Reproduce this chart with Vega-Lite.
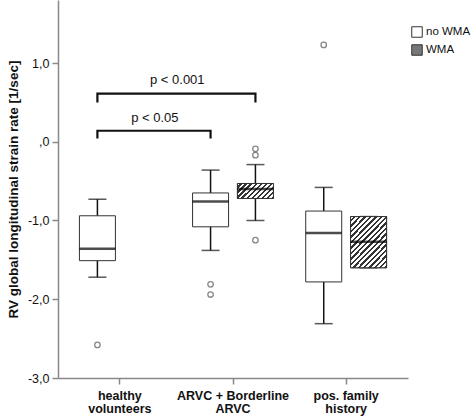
{
  "$schema": "https://vega.github.io/schema/vega-lite/v6.json",
  "width": 350,
  "height": 378,
  "autosize": {"type": "none"},
  "padding": {"left": 58, "top": 0, "right": 64, "bottom": 38},
  "background": "white",
  "config": {
    "view": {"stroke": null},
    "font": "Liberation Sans",
    "axis": {"grid": false, "domainColor": "#888888", "domainWidth": 1.5, "tickColor": "#888888", "tickWidth": 1.5, "tickSize": 6, "labelColor": "#111111", "titleColor": "#111111"}
  },
  "datasets": {
    "boxes": [
      {"group": "healthy volunteers", "wma": "no WMA", "lo": -1.72, "q1": -1.51, "med": -1.36, "q3": -0.94, "hi": -0.73},
      {"group": "ARVC + Borderline ARVC", "wma": "no WMA", "lo": -1.38, "q1": -1.08, "med": -0.76, "q3": -0.65, "hi": -0.36},
      {"group": "ARVC + Borderline ARVC", "wma": "WMA", "lo": -1.0, "q1": -0.72, "med": -0.6, "q3": -0.53, "hi": -0.29},
      {"group": "pos. family history", "wma": "no WMA", "lo": -2.31, "q1": -1.78, "med": -1.16, "q3": -0.88, "hi": -0.58},
      {"group": "pos. family history", "wma": "WMA", "lo": -1.6, "q1": -1.6, "med": -1.27, "q3": -0.95, "hi": -0.95}
    ],
    "outliers": [
      {"group": "healthy volunteers", "wma": "no WMA", "v": -2.58},
      {"group": "ARVC + Borderline ARVC", "wma": "no WMA", "v": -1.81},
      {"group": "ARVC + Borderline ARVC", "wma": "no WMA", "v": -1.94},
      {"group": "ARVC + Borderline ARVC", "wma": "WMA", "v": -1.25},
      {"group": "ARVC + Borderline ARVC", "wma": "WMA", "v": -0.17},
      {"group": "ARVC + Borderline ARVC", "wma": "WMA", "v": -0.09},
      {"group": "pos. family history", "wma": "no WMA", "v": 1.23}
    ],
    "brackets": [
      {"bracket": "a", "group": "healthy volunteers", "wma": "no WMA", "v": 0.5, "ord": 1},
      {"bracket": "a", "group": "healthy volunteers", "wma": "no WMA", "v": 0.61, "ord": 2},
      {"bracket": "a", "group": "ARVC + Borderline ARVC", "wma": "WMA", "v": 0.61, "ord": 3},
      {"bracket": "a", "group": "ARVC + Borderline ARVC", "wma": "WMA", "v": 0.5, "ord": 4},
      {"bracket": "b", "group": "healthy volunteers", "wma": "no WMA", "v": 0.04, "ord": 1},
      {"bracket": "b", "group": "healthy volunteers", "wma": "no WMA", "v": 0.14, "ord": 2},
      {"bracket": "b", "group": "ARVC + Borderline ARVC", "wma": "no WMA", "v": 0.14, "ord": 3},
      {"bracket": "b", "group": "ARVC + Borderline ARVC", "wma": "no WMA", "v": 0.04, "ord": 4}
    ]
  },
  "encoding": {
    "x": {
      "field": "group", "type": "nominal", "sort": null,
      "scale": {"domain": ["healthy volunteers", "ARVC + Borderline ARVC", "pos. family history"], "paddingInner": 0.207, "paddingOuter": 0.15},
      "axis": {"title": null, "labelAngle": 0, "labelFontSize": 12.5, "labelFontWeight": "bold", "labelPadding": 5, "labelLineHeight": 13,
        "labelExpr": "datum.value == 'healthy volunteers' ? ['healthy', 'volunteers'] : datum.value == 'ARVC + Borderline ARVC' ? ['ARVC + Borderline', 'ARVC'] : ['pos. family', 'history']"}
    }
  },
  "layer": [
    {
      "data": {"name": "boxes"},
      "mark": {"type": "rule", "color": "#111111", "strokeWidth": 1.5},
      "encoding": {
        "xOffset": {"field": "wma", "type": "nominal", "scale": {"domain": ["no WMA", "WMA"], "paddingInner": 0, "paddingOuter": 0}},
        "y": {"field": "lo", "type": "quantitative", "scale": {"domain": [-3, 1.8], "nice": false, "zero": false},
          "axis": {"values": [-3, -2, -1, 0, 1], "title": "RV global longitudinal strain rate [1/sec]", "titleFontSize": 13.5, "titleFontWeight": "bold", "titlePadding": 7, "labelFontSize": 12.5, "labelPadding": 3,
            "labelExpr": "datum.value == 0 ? ',0' : (datum.value < 0 ? '-' : '') + abs(datum.value) + ',0'"}},
        "y2": {"field": "hi"}
      }
    },
    {
      "data": {"name": "boxes"},
      "mark": {"type": "tick", "color": "#111111", "size": 18, "thickness": 1.5, "orient": "horizontal"},
      "encoding": {
        "xOffset": {"field": "wma", "type": "nominal"},
        "y": {"field": "lo", "type": "quantitative"}
      }
    },
    {
      "data": {"name": "boxes"},
      "mark": {"type": "tick", "color": "#111111", "size": 18, "thickness": 1.5, "orient": "horizontal"},
      "encoding": {
        "xOffset": {"field": "wma", "type": "nominal"},
        "y": {"field": "hi", "type": "quantitative"}
      }
    },
    {
      "data": {"name": "boxes"},
      "mark": {"type": "bar", "size": 36, "stroke": "#333333", "strokeWidth": 1, "opacity": 1},
      "encoding": {
        "xOffset": {"field": "wma", "type": "nominal"},
        "y": {"field": "q1", "type": "quantitative"},
        "y2": {"field": "q3"},
        "color": {
          "field": "wma", "type": "nominal",
          "scale": {"domain": ["no WMA", "WMA"], "range": ["#ffffff", "#777777"]},
          "legend": {"title": null, "orient": "none", "legendX": 353, "legendY": 26, "symbolType": "square", "symbolSize": 110, "symbolStrokeColor": "#333333", "symbolStrokeWidth": 1, "labelFontSize": 11.5, "labelFontWeight": "normal", "labelColor": "#111111", "labelOffset": 3, "rowPadding": 2, "padding": 0,
            "encode": {"symbols": {"update": {"fill": [
              {"test": "datum.value === 'WMA'", "value": {"gradient": "linear", "x1": 0, "y1": 0, "x2": 1, "y2": 1, "stops": [
                {"offset": 0, "color": "#ffffff"}, {"offset": 0.1375, "color": "#ffffff"}, {"offset": 0.1375, "color": "#333333"}, {"offset": 0.25, "color": "#333333"},
                {"offset": 0.25, "color": "#ffffff"}, {"offset": 0.3875, "color": "#ffffff"}, {"offset": 0.3875, "color": "#333333"}, {"offset": 0.5, "color": "#333333"},
                {"offset": 0.5, "color": "#ffffff"}, {"offset": 0.6375, "color": "#ffffff"}, {"offset": 0.6375, "color": "#333333"}, {"offset": 0.75, "color": "#333333"},
                {"offset": 0.75, "color": "#ffffff"}, {"offset": 0.8875, "color": "#ffffff"}, {"offset": 0.8875, "color": "#333333"}, {"offset": 1, "color": "#333333"}
              ]}},
              {"value": "#ffffff"}
            ]}}}
          }
        }
      }
    },
    {
      "data": {"name": "boxes"},
      "transform": [{"filter": "datum.wma == 'WMA' && datum.group == 'ARVC + Borderline ARVC'"}],
      "mark": {"type": "bar", "size": 36, "stroke": "#333333", "strokeWidth": 1, "opacity": 1,
        "fill": {"gradient": "linear", "x1": 0, "y1": 0, "x2": 1.207, "y2": 0.503, "stops": [
          {"offset": 0, "color": "#ffffff"}, {"offset": 0.055, "color": "#ffffff"}, {"offset": 0.055, "color": "#333333"}, {"offset": 0.1, "color": "#333333"},
          {"offset": 0.1, "color": "#ffffff"}, {"offset": 0.155, "color": "#ffffff"}, {"offset": 0.155, "color": "#333333"}, {"offset": 0.2, "color": "#333333"},
          {"offset": 0.2, "color": "#ffffff"}, {"offset": 0.255, "color": "#ffffff"}, {"offset": 0.255, "color": "#333333"}, {"offset": 0.3, "color": "#333333"},
          {"offset": 0.3, "color": "#ffffff"}, {"offset": 0.355, "color": "#ffffff"}, {"offset": 0.355, "color": "#333333"}, {"offset": 0.4, "color": "#333333"},
          {"offset": 0.4, "color": "#ffffff"}, {"offset": 0.455, "color": "#ffffff"}, {"offset": 0.455, "color": "#333333"}, {"offset": 0.5, "color": "#333333"},
          {"offset": 0.5, "color": "#ffffff"}, {"offset": 0.555, "color": "#ffffff"}, {"offset": 0.555, "color": "#333333"}, {"offset": 0.6, "color": "#333333"},
          {"offset": 0.6, "color": "#ffffff"}, {"offset": 0.655, "color": "#ffffff"}, {"offset": 0.655, "color": "#333333"}, {"offset": 0.7, "color": "#333333"},
          {"offset": 0.7, "color": "#ffffff"}, {"offset": 0.755, "color": "#ffffff"}, {"offset": 0.755, "color": "#333333"}, {"offset": 0.8, "color": "#333333"},
          {"offset": 0.8, "color": "#ffffff"}, {"offset": 0.855, "color": "#ffffff"}, {"offset": 0.855, "color": "#333333"}, {"offset": 0.9, "color": "#333333"},
          {"offset": 0.9, "color": "#ffffff"}, {"offset": 0.955, "color": "#ffffff"}, {"offset": 0.955, "color": "#333333"}, {"offset": 1, "color": "#333333"}
        ]}},
      "encoding": {
        "xOffset": {"field": "wma", "type": "nominal"},
        "y": {"field": "q1", "type": "quantitative"},
        "y2": {"field": "q3"}
      }
    },
    {
      "data": {"name": "boxes"},
      "transform": [{"filter": "datum.wma == 'WMA' && datum.group == 'pos. family history'"}],
      "mark": {"type": "bar", "size": 36, "stroke": "#333333", "strokeWidth": 1, "opacity": 1,
        "fill": {"gradient": "linear", "x1": 0, "y1": 0, "x2": 0.816, "y2": 1.133, "stops": [
          {"offset": 0, "color": "#ffffff"}, {"offset": 0.0344, "color": "#ffffff"}, {"offset": 0.0344, "color": "#333333"}, {"offset": 0.0625, "color": "#333333"},
          {"offset": 0.0625, "color": "#ffffff"}, {"offset": 0.0969, "color": "#ffffff"}, {"offset": 0.0969, "color": "#333333"}, {"offset": 0.125, "color": "#333333"},
          {"offset": 0.125, "color": "#ffffff"}, {"offset": 0.1594, "color": "#ffffff"}, {"offset": 0.1594, "color": "#333333"}, {"offset": 0.1875, "color": "#333333"},
          {"offset": 0.1875, "color": "#ffffff"}, {"offset": 0.2219, "color": "#ffffff"}, {"offset": 0.2219, "color": "#333333"}, {"offset": 0.25, "color": "#333333"},
          {"offset": 0.25, "color": "#ffffff"}, {"offset": 0.2844, "color": "#ffffff"}, {"offset": 0.2844, "color": "#333333"}, {"offset": 0.3125, "color": "#333333"},
          {"offset": 0.3125, "color": "#ffffff"}, {"offset": 0.3469, "color": "#ffffff"}, {"offset": 0.3469, "color": "#333333"}, {"offset": 0.375, "color": "#333333"},
          {"offset": 0.375, "color": "#ffffff"}, {"offset": 0.4094, "color": "#ffffff"}, {"offset": 0.4094, "color": "#333333"}, {"offset": 0.4375, "color": "#333333"},
          {"offset": 0.4375, "color": "#ffffff"}, {"offset": 0.4719, "color": "#ffffff"}, {"offset": 0.4719, "color": "#333333"}, {"offset": 0.5, "color": "#333333"},
          {"offset": 0.5, "color": "#ffffff"}, {"offset": 0.5344, "color": "#ffffff"}, {"offset": 0.5344, "color": "#333333"}, {"offset": 0.5625, "color": "#333333"},
          {"offset": 0.5625, "color": "#ffffff"}, {"offset": 0.5969, "color": "#ffffff"}, {"offset": 0.5969, "color": "#333333"}, {"offset": 0.625, "color": "#333333"},
          {"offset": 0.625, "color": "#ffffff"}, {"offset": 0.6594, "color": "#ffffff"}, {"offset": 0.6594, "color": "#333333"}, {"offset": 0.6875, "color": "#333333"},
          {"offset": 0.6875, "color": "#ffffff"}, {"offset": 0.7219, "color": "#ffffff"}, {"offset": 0.7219, "color": "#333333"}, {"offset": 0.75, "color": "#333333"},
          {"offset": 0.75, "color": "#ffffff"}, {"offset": 0.7844, "color": "#ffffff"}, {"offset": 0.7844, "color": "#333333"}, {"offset": 0.8125, "color": "#333333"},
          {"offset": 0.8125, "color": "#ffffff"}, {"offset": 0.8469, "color": "#ffffff"}, {"offset": 0.8469, "color": "#333333"}, {"offset": 0.875, "color": "#333333"},
          {"offset": 0.875, "color": "#ffffff"}, {"offset": 0.9094, "color": "#ffffff"}, {"offset": 0.9094, "color": "#333333"}, {"offset": 0.9375, "color": "#333333"},
          {"offset": 0.9375, "color": "#ffffff"}, {"offset": 0.9719, "color": "#ffffff"}, {"offset": 0.9719, "color": "#333333"}, {"offset": 1, "color": "#333333"}
        ]}},
      "encoding": {
        "xOffset": {"field": "wma", "type": "nominal"},
        "y": {"field": "q1", "type": "quantitative"},
        "y2": {"field": "q3"}
      }
    },
    {
      "data": {"name": "boxes"},
      "mark": {"type": "tick", "color": "#000000", "size": 36, "thickness": 2.5, "orient": "horizontal"},
      "encoding": {
        "xOffset": {"field": "wma", "type": "nominal"},
        "y": {"field": "med", "type": "quantitative"}
      }
    },
    {
      "data": {"name": "outliers"},
      "mark": {"type": "point", "shape": "circle", "filled": false, "color": "#555555", "strokeWidth": 1.3, "size": 30},
      "encoding": {
        "xOffset": {"field": "wma", "type": "nominal"},
        "y": {"field": "v", "type": "quantitative"}
      }
    },
    {
      "data": {"name": "brackets"},
      "mark": {"type": "line", "color": "#111111", "strokeWidth": 2.2, "strokeJoin": "miter", "strokeCap": "butt"},
      "encoding": {
        "xOffset": {"field": "wma", "type": "nominal"},
        "y": {"field": "v", "type": "quantitative"},
        "detail": {"field": "bracket"},
        "order": {"field": "ord", "type": "quantitative"}
      }
    },
    {
      "data": {"values": [{"group": "healthy volunteers", "v": 0.3, "label": "p < 0.05"}]},
      "mark": {"type": "text", "fontSize": 13, "color": "#111111", "baseline": "middle", "align": "center"},
      "encoding": {
        "x": {"field": "group", "type": "nominal", "bandPosition": 0.89},
        "y": {"field": "v", "type": "quantitative"},
        "text": {"field": "label"}
      }
    },
    {
      "data": {"values": [{"group": "healthy volunteers", "v": 0.79, "label": "p < 0.001"}]},
      "mark": {"type": "text", "fontSize": 13, "color": "#111111", "baseline": "middle", "align": "center"},
      "encoding": {
        "x": {"field": "group", "type": "nominal", "bandPosition": 1.14},
        "y": {"field": "v", "type": "quantitative"},
        "text": {"field": "label"}
      }
    }
  ]
}
